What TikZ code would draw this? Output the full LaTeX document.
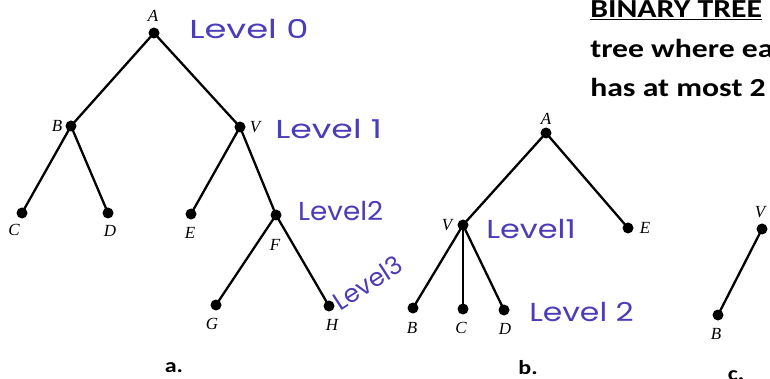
\documentclass[tikz,border=0pt]{standalone}
\usepackage{fontspec}
\newfontfamily\hand{Poppins}
\newfontfamily\calib{Carlito}
\newfontfamily\tms{Liberation Serif}
\definecolor{pen}{HTML}{4B3CB8}
\begin{document}
\begin{tikzpicture}[x=1pt,y=-1pt,
  dot/.style={circle,fill=black,inner sep=0pt,minimum size=11pt},
  edge/.style={line width=2.3pt},
  lab/.style={font=\tms\itshape\fontsize{17}{17}\selectfont,inner sep=0pt},
  lvl/.style={font=\hand\fontsize{26}{26}\selectfont,text=pen,inner sep=0pt,anchor=west},
  capt/.style={font=\calib\bfseries\fontsize{20}{20}\selectfont,inner sep=0pt,xscale=1.2},
  side/.style={font=\calib\bfseries\fontsize{26}{26}\selectfont,anchor=base west,inner sep=0pt,xscale=1.22}]
\useasboundingbox (0,0) rectangle (770,379);
\clip (0,0) rectangle (770,379);
% tree a
\node[dot] (aA) at (154,33) {};
\node[dot] (aB) at (71,126) {};
\node[dot] (aV) at (240,127) {};
\node[dot] (aC) at (22,213) {};
\node[dot] (aD) at (108,213) {};
\node[dot] (aE) at (191,214) {};
\node[dot] (aF) at (276,215) {};
\node[dot] (aG) at (216,305) {};
\node[dot] (aH) at (329,306) {};
\draw[edge] (aA.center) -- (aB.center);
\draw[edge] (aA.center) -- (aV.center);
\draw[edge] (aB.center) -- (aC.center);
\draw[edge] (aB.center) -- (aD.center);
\draw[edge] (aV.center) -- (aE.center);
\draw[edge] (aV.center) -- (aF.center);
\draw[edge] (aF.center) -- (aG.center);
\draw[edge] (aF.center) -- (aH.center);
\node[lab] (laA) at (153,16) {A};
\node[lab] (laB) at (57,126) {B};
\node[lab] (laV) at (255,127) {V};
\node[lab] (laC) at (14,230) {C};
\node[lab] (laD) at (110,231) {D};
\node[lab] (laE) at (190,233) {E};
\node[lab] (laF) at (275,245) {F};
\node[lab] (laG) at (212,324) {G};
\node[lab] (laH) at (332,325) {H};
\node[capt] (ca) at (174,368) {a.};
\node[lvl,xscale=1.36] (l0) at (189,29) {Level 0};
\node[lvl,xscale=1.34] (l1) at (275,129) {Level 1};
\node[lvl,xscale=1.07] (l2) at (298,211) {Level2};
\node[lvl,rotate=33,font=\hand\fontsize{25}{25}\selectfont,anchor=south west] (l3) at (341,312) {Level3};
% tree b
\node[dot] (bA) at (546,133) {};
\node[dot] (bV) at (463,225) {};
\node[dot] (bE) at (628,228) {};
\node[dot] (bB) at (413,308) {};
\node[dot] (bC) at (463,309) {};
\node[dot] (bD) at (504,310) {};
\draw[edge] (bA.center) -- (bV.center);
\draw[edge] (bA.center) -- (bE.center);
\draw[edge] (bV.center) -- (bB.center);
\draw[edge] (bV.center) -- (bC.center);
\draw[edge] (bV.center) -- (bD.center);
\node[lab] (lbA) at (546,119) {A};
\node[lab] (lbV) at (447,225) {V};
\node[lab] (lbE) at (645,228) {E};
\node[lab] (lbB) at (412,328) {B};
\node[lab] (lbC) at (461,328) {C};
\node[lab] (lbD) at (505,329) {D};
\node[capt] (cb) at (528,368) {b.};
\node[lvl,xscale=1.23] (m1) at (486,229) {Level1};
\node[lvl,xscale=1.21] (m2) at (529,312) {Level 2};
% tree c
\node[dot] (cV) at (762,229) {};
\node[dot] (cB) at (718,315) {};
\draw[edge] (cV.center) -- (cB.center);
\node[lab] (lcV) at (760,212) {V};
\node[lab] (lcB) at (716,334) {B};
\node[capt] (cc) at (736,376) {c.};
% text
\node[side] (t1) at (590,18) {\underline{BINARY TREE}};
\node[side] (t2) at (590,58) {tree where ea};
\node[side] (t3) at (590,97) {has at most 2};
\end{tikzpicture}
\end{document}
